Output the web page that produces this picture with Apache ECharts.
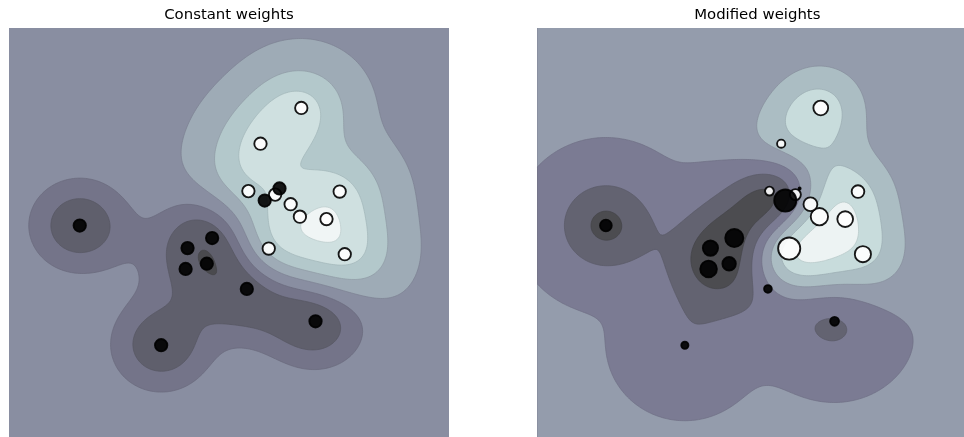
<!DOCTYPE html>
<html><head><meta charset="utf-8">
<script src="https://cdn.jsdelivr.net/npm/echarts@6/dist/echarts.min.js"></script>
<style>html,body{margin:0;padding:0;background:#fff}#c{width:964px;height:437px}</style>
</head><body><div id="c"></div>
<script>
// ---------------- data ----------------
const pointX = [2.76405235, 1.97873798, 2.86755799, 1.95008842, 0.89678115, 1.14404357, 1.76103773, 1.44386323, 2.49407907, 1.3130677,
  -2.55298982, 0.8644362, 2.26975462, 0.04575852, 1.53277921, 0.15494743, -0.88778575, -0.34791215, 1.23029068, -0.38732682];
const pointY = [1.40015721, 3.2408932, 0.02272212, 0.84864279, 1.4105985, 2.45427351, 1.12167502, 1.33367433, 0.79484174, 0.14590426,
  0.6536186, -0.74216502, -1.45436567, -0.18718385, 1.46935877, 0.37816252, -1.98079647, 0.15634897, 1.20237985, -0.30230275];
const labels = [1, 1, 1, 1, 1, 1, 1, 1, 1, 1, -1, -1, -1, -1, -1, -1, -1, -1, -1, -1];
const weightsConstant = [1, 1, 1, 1, 1, 1, 1, 1, 1, 1, 1, 1, 1, 1, 1, 1, 1, 1, 1, 1];
const weightsModified = [1.04855297, 1.42001794, 1.70627019, 1.9507754, 0.50965218, 0.4380743, 1.25279536, 0.77749036, 1.61389785, 3.1911042,
  0.89546656, 0.3869025, 0.51080514, 1.18063218, 0.02818223, 2.14165935, 0.3325861, 1.5123595, 3.17161045, 1.81370585];
// contour levels (in decision-function units)
const levelsConstant = [-1.58, -1.185, -0.73, -0.395, 0, 0.395, 0.79, 1.185, 1.58];
const levelsModified = [-1.185, -0.79, -0.395, 0, 0.395, 0.79, 1.185, 1.58];
const panelTitles = ['Constant weights', 'Modified weights'];
const axisRange = [-4, 5];

// ---------------- model (RBF SVC, gamma=1, C=1, per-sample C) ----------------
const GAMMA = 1, CPEN = 1, GRID_N = 226;
function kern(ax, ay, bx, by) { const dx = ax - bx, dy = ay - by; return Math.exp(-GAMMA * (dx * dx + dy * dy)); }
function fitSVC(w) {
  const n = pointX.length, y = labels;
  const K = [];
  for (let i = 0; i < n; i++) { K.push([]); for (let j = 0; j < n; j++) K[i].push(kern(pointX[i], pointY[i], pointX[j], pointY[j])); }
  const Cb = w.map(v => v * CPEN);
  const a = new Array(n).fill(0), G = new Array(n).fill(-1);
  const isUp = i => a[i] >= Cb[i], isLow = i => a[i] <= 0;
  for (let it = 0; it < 100000; it++) {
    let Gmax = -Infinity, gi = -1;
    for (let t = 0; t < n; t++) {
      if (y[t] === 1) { if (!isUp(t) && -G[t] >= Gmax) { Gmax = -G[t]; gi = t; } }
      else { if (!isLow(t) && G[t] >= Gmax) { Gmax = G[t]; gi = t; } }
    }
    let Gmax2 = -Infinity, gj = -1, objMin = Infinity;
    for (let j = 0; j < n; j++) {
      if (y[j] === 1) {
        if (!isLow(j)) {
          const gd = Gmax + G[j];
          if (G[j] >= Gmax2) Gmax2 = G[j];
          if (gd > 0 && gi >= 0) { let qc = 2 - 2 * K[gi][j]; if (qc <= 0) qc = 1e-12; const ob = -gd * gd / qc; if (ob <= objMin) { gj = j; objMin = ob; } }
        }
      } else {
        if (!isUp(j)) {
          const gd = Gmax - G[j];
          if (-G[j] >= Gmax2) Gmax2 = -G[j];
          if (gd > 0 && gi >= 0) { let qc = 2 - 2 * K[gi][j]; if (qc <= 0) qc = 1e-12; const ob = -gd * gd / qc; if (ob <= objMin) { gj = j; objMin = ob; } }
        }
      }
    }
    if (Gmax + Gmax2 < 1e-3 || gj === -1) break;
    const i = gi, j = gj, Qij = y[i] * y[j] * K[i][j], Ci = Cb[i], Cj = Cb[j];
    const oi = a[i], oj = a[j];
    if (y[i] !== y[j]) {
      let qc = 2 + 2 * Qij; if (qc <= 0) qc = 1e-12;
      const delta = (-G[i] - G[j]) / qc, diff = a[i] - a[j];
      a[i] += delta; a[j] += delta;
      if (diff > 0) { if (a[j] < 0) { a[j] = 0; a[i] = diff; } } else { if (a[i] < 0) { a[i] = 0; a[j] = -diff; } }
      if (diff > Ci - Cj) { if (a[i] > Ci) { a[i] = Ci; a[j] = Ci - diff; } } else { if (a[j] > Cj) { a[j] = Cj; a[i] = Cj + diff; } }
    } else {
      let qc = 2 - 2 * Qij; if (qc <= 0) qc = 1e-12;
      const delta = (G[i] - G[j]) / qc, sum = a[i] + a[j];
      a[i] -= delta; a[j] += delta;
      if (sum > Ci) { if (a[i] > Ci) { a[i] = Ci; a[j] = sum - Ci; } } else { if (a[j] < 0) { a[j] = 0; a[i] = sum; } }
      if (sum > Cj) { if (a[j] > Cj) { a[j] = Cj; a[i] = sum - Cj; } } else { if (a[i] < 0) { a[i] = 0; a[j] = sum; } }
    }
    const di = a[i] - oi, dj = a[j] - oj;
    for (let k = 0; k < n; k++) G[k] += y[i] * y[k] * K[i][k] * di + y[j] * y[k] * K[j][k] * dj;
  }
  let nf = 0, sf = 0, ub = Infinity, lb = -Infinity;
  for (let i = 0; i < n; i++) {
    const yG = y[i] * G[i];
    if (isUp(i)) { if (y[i] === -1) ub = Math.min(ub, yG); else lb = Math.max(lb, yG); }
    else if (isLow(i)) { if (y[i] === 1) ub = Math.min(ub, yG); else lb = Math.max(lb, yG); }
    else { nf++; sf += yG; }
  }
  const rho = nf > 0 ? sf / nf : (ub + lb) / 2;
  return { a, rho };
}
function decisionGrid(model) {
  const n = GRID_N, vals = new Float64Array(n * n), st = (axisRange[1] - axisRange[0]) / (n - 1);
  for (let iy = 0; iy < n; iy++) for (let ix = 0; ix < n; ix++) {
    const x = axisRange[0] + ix * st, yy = axisRange[0] + iy * st;
    let s = -model.rho;
    for (let k = 0; k < pointX.length; k++) if (model.a[k] > 0) s += labels[k] * model.a[k] * kern(pointX[k], pointY[k], x, yy);
    vals[iy * n + ix] = s;
  }
  return vals;
}
// bone colormap (256 LUT), composited at alpha 0.75 over white
function bone(v) {
  const idx = Math.min(255, Math.max(0, Math.floor(v * 256))), x = idx / 255;
  const seg = (pts) => { for (let i = 1; i < pts.length; i++) if (x <= pts[i][0]) { const [x0, y0] = pts[i - 1], [x1, y1] = pts[i]; return y0 + (x - x0) / (x1 - x0) * (y1 - y0); } return 1; };
  return [seg([[0, 0], [0.746032, 0.652778], [1, 1]]), seg([[0, 0], [0.365079, 0.319444], [0.746032, 0.777778], [1, 1]]), seg([[0, 0], [0.365079, 0.444444], [1, 1]])];
}
function bandColor(v) { return bone(v).map(c => Math.round((0.75 * c + 0.25) * 255)); }
const rgb = c => 'rgb(' + c.join(',') + ')';

function buildPanel(weights, levels) {
  const vals = decisionGrid(fitSVC(weights));
  const nb = levels.length - 1;
  const cols = [];
  for (let k = 0; k < nb; k++) cols.push(bandColor((k + 0.5) / nb));
  const lineCols = [null];
  for (let k = 1; k < nb; k++) { const a = cols[k - 1], b = cols[k]; const d = (a[0] + a[1] + a[2] < b[0] + b[1] + b[2]) ? a : b; lineCols.push(d.map(c => Math.round(c * 0.9))); }
  return { vals, levels, cols, lineCols, nb };
}
const panels = [buildPanel(weightsConstant, levelsConstant), buildPanel(weightsModified, levelsModified)];

function buildPaths(vals, t, toPx) {
  const n = GRID_N; let fill = [], line = [];
  const f2 = v => v.toFixed(2);
  const poly = pts => { fill.push('M' + f2(pts[0][0]) + ' ' + f2(pts[0][1])); for (let i = 1; i < pts.length; i++) fill.push('L' + f2(pts[i][0]) + ' ' + f2(pts[i][1])); fill.push('Z'); };
  for (let iy = 0; iy < n - 1; iy++) {
    let rs = -1;
    for (let ix = 0; ix < n - 1; ix++) {
      const cv = [vals[iy * n + ix], vals[iy * n + ix + 1], vals[(iy + 1) * n + ix + 1], vals[(iy + 1) * n + ix]];
      const ab = cv.map(v => v > t);
      const full = ab[0] && ab[1] && ab[2] && ab[3];
      if (full) { if (rs < 0) rs = ix; continue; }
      if (rs >= 0) { poly([toPx(rs, iy), toPx(ix, iy), toPx(ix, iy + 1), toPx(rs, iy + 1)]); rs = -1; }
      if (!(ab[0] || ab[1] || ab[2] || ab[3])) continue;
      const cx = [ix, ix + 1, ix + 1, ix], cy = [iy, iy, iy + 1, iy + 1];
      const pts = [], cr = [];
      for (let k = 0; k < 4; k++) {
        const k2 = (k + 1) % 4;
        if (ab[k]) { pts.push(toPx(cx[k], cy[k])); cr.push(false); }
        if (ab[k] !== ab[k2]) {
          const f = (t - cv[k]) / (cv[k2] - cv[k]);
          pts.push(toPx(cx[k] + f * (cx[k2] - cx[k]), cy[k] + f * (cy[k2] - cy[k]))); cr.push(true);
        }
      }
      poly(pts);
      for (let k = 0; k < pts.length; k++) {
        const k2 = (k + 1) % pts.length;
        if (cr[k] && cr[k2]) line.push('M' + f2(pts[k][0]) + ' ' + f2(pts[k][1]) + 'L' + f2(pts[k2][0]) + ' ' + f2(pts[k2][1]));
      }
    }
    if (rs >= 0) poly([toPx(rs, iy), toPx(n - 1, iy), toPx(n - 1, iy + 1), toPx(rs, iy + 1)]);
  }
  return { fill: fill.join(''), line: line.join('') };
}

function contourRenderer(p) {
  return function (params, api) {
    const k = params.dataIndex;
    const p0 = api.coord([axisRange[0], axisRange[0]]), p1 = api.coord([axisRange[1], axisRange[1]]);
    if (k === 0) return { type: 'rect', silent: true, shape: { x: p0[0], y: p1[1], width: p1[0] - p0[0], height: p0[1] - p1[1] }, style: { fill: rgb(p.cols[0]) } };
    const sx = (p1[0] - p0[0]) / (GRID_N - 1), sy = (p1[1] - p0[1]) / (GRID_N - 1);
    const toPx = (gx, gy) => [p0[0] + gx * sx, p0[1] + gy * sy];
    const paths = buildPaths(p.vals, p.levels[k], toPx);
    return { type: 'group', silent: true, children: [
      { type: 'path', shape: { pathData: paths.fill }, style: { fill: rgb(p.cols[k]), stroke: 'none' } },
      { type: 'path', shape: { pathData: paths.line }, style: { fill: 'none', stroke: rgb(p.lineCols[k]), lineWidth: 0.7 } }
    ] };
  };
}

const PX_PER_PT = 440 / (0.775 * 14 / 2.2 * 72);
function scatterData(weights) {
  return pointX.map((x, i) => ({
    value: [x, pointY[i]],
    symbolSize: Math.sqrt(100 * weights[i]) * PX_PER_PT,
    itemStyle: { color: labels[i] === 1 ? 'rgba(255,255,255,0.9)' : 'rgba(0,0,0,0.9)', borderColor: 'rgba(0,0,0,0.9)', borderWidth: 1.5 * PX_PER_PT, opacity: 1 }
  }));
}

const gridLefts = [9, 537.3];
const series = [];
[weightsConstant, weightsModified].forEach((w, pi) => {
  const p = panels[pi];
  series.push({ type: 'custom', xAxisIndex: pi, yAxisIndex: pi, z: 1, silent: true, renderItem: contourRenderer(p),
    data: Array.from({ length: p.nb }, (_, k) => [0, 0, k]) });
  series.push({ type: 'scatter', xAxisIndex: pi, yAxisIndex: pi, z: 2, silent: true, symbol: 'circle', itemStyle: { opacity: 1 }, data: scatterData(w), emphasis: { disabled: true } });
});

const chart = echarts.init(document.getElementById('c'), null, { renderer: 'canvas' });
chart.setOption({
  animation: false,
  backgroundColor: '#fff',
  grid: gridLefts.map(l => ({ left: l, top: 28, width: 440, height: 412.5, containLabel: false })),
  xAxis: gridLefts.map((_, i) => ({ type: 'value', gridIndex: i, min: axisRange[0], max: axisRange[1], show: false })),
  yAxis: gridLefts.map((_, i) => ({ type: 'value', gridIndex: i, min: axisRange[0], max: axisRange[1], show: false })),
  graphic: panelTitles.map((t, i) => ({ type: 'text', x: gridLefts[i] + 220, y: 15.4, silent: true,
    style: { text: t, font: '14.9px "DejaVu Sans"', fill: '#000', align: 'center', verticalAlign: 'middle', textAlign: 'center', textVerticalAlign: 'middle' } })),
  series
});
</script></body></html>
